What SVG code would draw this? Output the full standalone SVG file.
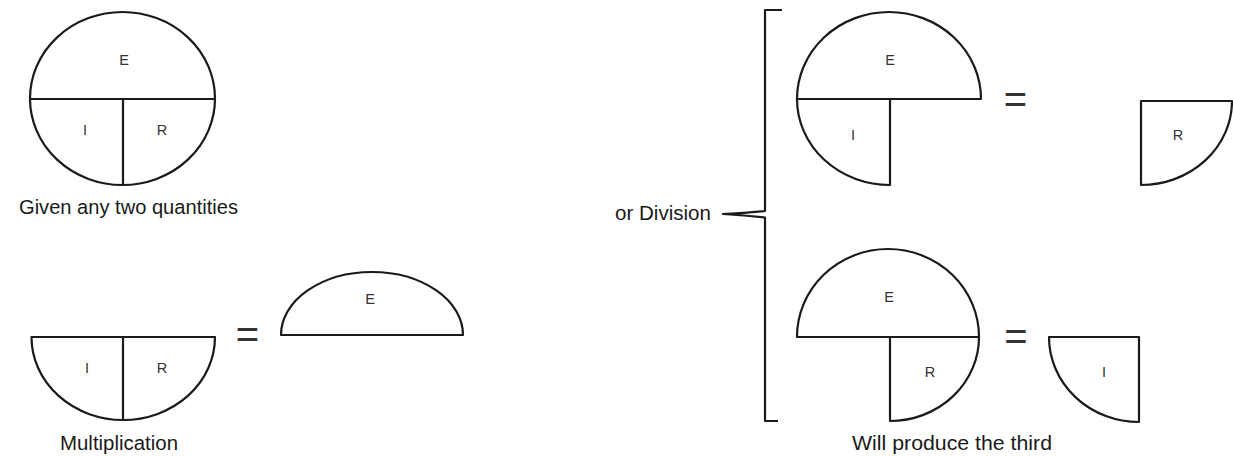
<svg xmlns="http://www.w3.org/2000/svg" width="1233" height="456" viewBox="0 0 1233 456">
<style>
.s{fill:none;stroke:#1a1a1a;stroke-width:2.2;stroke-linejoin:round}
.l{font-family:"Liberation Sans",Arial,sans-serif;font-size:14.5px;fill:#333;text-anchor:middle}
.t{font-family:"Liberation Sans",Arial,sans-serif;font-size:20.5px;fill:#1a1a1a}
.eq{font-family:"Liberation Sans",Arial,sans-serif;font-size:40px;fill:#333;text-anchor:middle}
</style>
<rect width="1233" height="456" fill="#fff"/>
<g id="circle-full">
<ellipse class="s" cx="122.5" cy="98.5" rx="92.5" ry="86.5"/>
<line class="s" x1="30" y1="99" x2="215" y2="99"/>
<line class="s" x1="123" y1="99" x2="123" y2="185"/>
<text class="l" x="124" y="65">E</text>
<text class="l" x="85" y="135">I</text>
<text class="l" x="162" y="135">R</text>
<text class="t" x="19" y="214" textLength="219" lengthAdjust="spacingAndGlyphs">Given any two quantities</text>
</g>
<g id="multiplication">
<path class="s" d="M31.5,337 H215 A91.75,83 0 0 1 31.5,337 Z"/>
<line class="s" x1="123" y1="337" x2="123" y2="420"/>
<text class="l" x="87" y="373">I</text>
<text class="l" x="162" y="373">R</text>
<text class="t" x="60" y="450" textLength="118" lengthAdjust="spacingAndGlyphs">Multiplication</text>
</g>
<g id="eq1"><text class="eq" x="247.5" y="348">=</text></g>
<g id="E-dome">
<path class="s" d="M281,335 A91,63 0 0 1 463,335 Z"/>
<text class="l" x="370" y="304">E</text>
</g>
<g id="connectors">
<path class="s" d="M782,10 H765 V211 Q745,213 723,214 Q745,215.5 765,217.5 V421 H778" stroke-width="2"/>
</g>
<text class="t" x="615" y="220" textLength="96" lengthAdjust="spacingAndGlyphs">or Division</text>
<g id="div-top">
<path class="s" d="M797,99 A92,87 0 0 1 981,99 H890 V185 A93,86 0 0 1 797,99 Z"/>
<line class="s" x1="797" y1="99" x2="890" y2="99"/>
<text class="l" x="890" y="65">E</text>
<text class="l" x="853" y="140">I</text>
</g>
<g id="eq2"><text class="eq" x="1015.5" y="113">=</text></g>
<g id="R-quarter">
<path class="s" d="M1141,101 H1232 A91,84 0 0 1 1141,185 Z"/>
<text class="l" x="1178" y="140">R</text>
</g>
<g id="div-bottom">
<path class="s" d="M797,337 A91,88 0 0 1 979,337 A89,84 0 0 1 890,421 V337 Z"/>
<line class="s" x1="890" y1="337" x2="979" y2="337"/>
<text class="l" x="889" y="302">E</text>
<text class="l" x="930" y="377">R</text>
</g>
<g id="eq3"><text class="eq" x="1016" y="350">=</text></g>
<g id="I-quarter">
<path class="s" d="M1049,337 H1139 V422 A90,85 0 0 1 1049,337 Z"/>
<text class="l" x="1104" y="377">I</text>
</g>
<text class="t" x="852" y="450" textLength="200" lengthAdjust="spacingAndGlyphs">Will produce the third</text>
</svg>
